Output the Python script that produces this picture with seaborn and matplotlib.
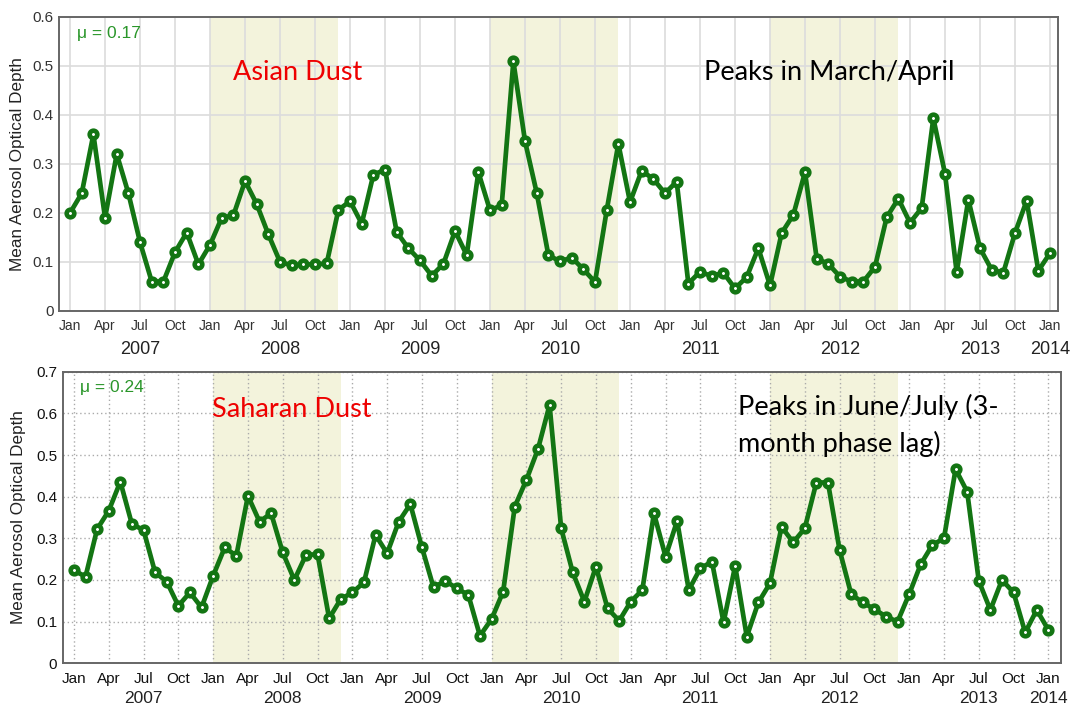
import numpy as np
import matplotlib.pyplot as plt
import seaborn as sns

# monthly mean AOD, Jan 2007 .. Jan 2014
asian_aod = [
    0.200, 0.240, 0.360, 0.190, 0.320, 0.240, 0.140, 0.060, 0.060, 0.120, 0.160, 0.095,
    0.135, 0.190, 0.195, 0.265, 0.218, 0.156, 0.100, 0.093, 0.095, 0.095, 0.097, 0.206,
    0.224, 0.178, 0.278, 0.288, 0.161, 0.128, 0.103, 0.072, 0.096, 0.163, 0.114, 0.283,
    0.205, 0.216, 0.509, 0.346, 0.241, 0.114, 0.101, 0.109, 0.085, 0.059, 0.205, 0.341,
    0.222, 0.286, 0.269, 0.240, 0.264, 0.056, 0.080, 0.071, 0.078, 0.046, 0.069, 0.128,
    0.052, 0.159, 0.196, 0.283, 0.107, 0.096, 0.070, 0.060, 0.060, 0.090, 0.191, 0.229,
    0.180, 0.210, 0.393, 0.280, 0.079, 0.227, 0.128, 0.084, 0.078, 0.159, 0.225, 0.082,
    0.118,
]
saharan_aod = [
    0.223, 0.208, 0.322, 0.366, 0.436, 0.334, 0.320, 0.218, 0.196, 0.138, 0.170, 0.134,
    0.210, 0.278, 0.258, 0.402, 0.340, 0.360, 0.266, 0.200, 0.260, 0.262, 0.108, 0.154,
    0.170, 0.194, 0.308, 0.264, 0.340, 0.382, 0.278, 0.182, 0.198, 0.180, 0.164, 0.066,
    0.106, 0.172, 0.376, 0.440, 0.514, 0.620, 0.324, 0.218, 0.148, 0.232, 0.132, 0.102,
    0.148, 0.176, 0.360, 0.256, 0.342, 0.176, 0.228, 0.244, 0.098, 0.234, 0.064, 0.146,
    0.192, 0.328, 0.290, 0.324, 0.434, 0.434, 0.272, 0.166, 0.146, 0.130, 0.112, 0.100,
    0.166, 0.238, 0.284, 0.300, 0.466, 0.412, 0.198, 0.128, 0.200, 0.170, 0.074, 0.128,
    0.080,
]
month_labels = ["Jan", "Apr", "Jul", "Oct"] * 7 + ["Jan"]
year_labels = ["2007", "2008", "2009", "2010", "2011", "2012", "2013", "2014"]
year_month = [6, 18, 30, 42, 54, 66, 78, 84]      # month index under which year is written
shaded_years = [(12, 23), (36, 47), (60, 71)]      # Jan..Dec of 2008, 2010, 2012

months = np.arange(len(asian_aod))
green = "#137513"
band = "#f3f3dc"

sns.set_style("white")
plt.rcParams["font.family"] = ["Liberation Sans", "DejaVu Sans"]

fig = plt.figure(figsize=(10.75, 7.06), dpi=100)
ax1 = fig.add_axes([0.0552, 0.5595, 0.9287, 0.4168])
ax2 = fig.add_axes([0.0583, 0.0605, 0.9287, 0.4130])


def draw_panel(ax, values, ymax, xlim, grid_style, label_size, tick_color,
               year_size, year_off, mu, title, note):
    for start, end in shaded_years:
        ax.axvspan(start, end, color=band, zorder=0, lw=0)
    sns.lineplot(x=months, y=values, ax=ax, color=green, lw=3.4, marker="o", ms=5.5,
                 mew=3.3, mfc="white", mec=green, zorder=3)
    ax.set_xlim(*xlim)
    ax.set_ylim(0, ymax)
    ax.set_yticks(np.arange(0, ymax + 0.001, 0.1))
    ax.set_yticklabels(["0"] + [f"{v:.1f}" for v in np.arange(0.1, ymax + 0.001, 0.1)])
    ax.set_xticks(np.arange(0, 85, 3))
    ax.set_xticklabels(month_labels)
    ax.tick_params(axis="x", length=0, pad=6, labelsize=label_size, colors=tick_color)
    ax.tick_params(axis="y", length=0, pad=4, labelsize=11, colors=tick_color)
    ax.grid(True, **grid_style)
    ax.set_axisbelow(True)
    for s in ax.spines.values():
        s.set_color("#666666")
        s.set_linewidth(1.4)
    ax.set_xlabel("")
    ax.set_ylabel("Mean Aerosol Optical Depth", fontsize=12.3, color="#222222")
    for x, yr in zip(year_month, year_labels):
        ax.annotate(yr, xy=(x, 0), xycoords=("data", "axes fraction"),
                    xytext=(0, year_off), textcoords="offset points",
                    ha="center", va="top", fontsize=year_size, color="#222222")
    ax.text(mu[0], mu[1], mu[2], transform=ax.transAxes, color="#2a962a",
            fontsize=12.5, va="baseline")
    ax.text(title[0], title[1], title[2], transform=ax.transAxes, color="#ee0000",
            fontsize=19.5, family="Lato", va="baseline")
    for x, y, s in note:
        ax.text(x, y, s, transform=ax.transAxes, color="black",
                fontsize=19.5, family="Lato", va="baseline")


draw_panel(ax1, asian_aod, 0.6, (-0.92, 84.66),
           dict(color="#dcdcdc", lw=1.2, ls="-"), 10, "#333333", 13, -21.5,
           (0.0177, 0.9266, "\u03bc = 0.17"),
           (0.174, 0.785, "Asian Dust"),
           [(0.6455, 0.785, "Peaks in March/April")])
ax1.yaxis.set_label_coords(-0.0339, 0.5)

draw_panel(ax2, saharan_aod, 0.7, (-0.97, 85.09),
           dict(color="#aaaaaa", lw=1.0, ls=(0, (1, 2))), 11, "#111111", 12.5, -20,
           (0.0173, 0.9314, "\u03bc = 0.24"),
           (0.1496, 0.8457, "Saharan Dust"),
           [(0.6765, 0.8515, "Peaks in June/July (3-"),
            (0.6765, 0.7257, "month phase lag)")])
ax2.yaxis.set_label_coords(-0.0368, 0.5)

fig.savefig("out.png", dpi=100)
